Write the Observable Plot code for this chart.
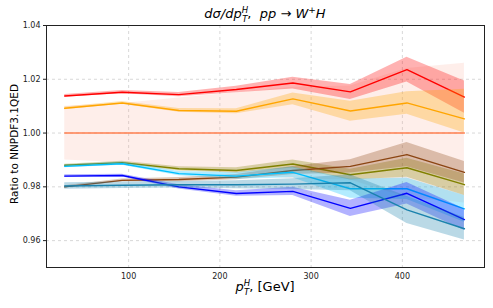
<!DOCTYPE html>
<html><head><meta charset="utf-8">
<script src="https://cdn.jsdelivr.net/npm/d3@7"></script>
<script src="https://cdn.jsdelivr.net/npm/@observablehq/plot@0.6"></script>
<style>body{margin:0;background:#fff;} svg{font-family:"DejaVu Sans",sans-serif;}</style>
</head><body><div id="chart"></div>
<script>
// bin centres of pT^H [GeV]
const pT = [30, 93, 155, 218, 280, 343, 405, 468];
const yTicks = [0.96, 0.98, 1.00, 1.02, 1.04];
const xTicks = [100, 200, 300, 400];

// reference NNPDF3.1QED
const refVal = [1, 1, 1, 1, 1, 1, 1, 1];
const refErr = [0.0100, 0.0110, 0.0130, 0.0150, 0.0170, 0.0175, 0.0240, 0.0260];
// red
const redVal = [1.0138, 1.0152, 1.0143, 1.0162, 1.0186, 1.0153, 1.0236, 1.0134];
const redErr = [0.0005, 0.0006, 0.0008, 0.0012, 0.0022, 0.0028, 0.0046, 0.0060];
// orange
const orangeVal = [1.0092, 1.0112, 1.0084, 1.0081, 1.0127, 1.0082, 1.0112, 1.0053];
const orangeUp = [0.0005, 0.0005, 0.0007, 0.0009, 0.0022, 0.0036, 0.0042, 0.0110];
const orangeDn = [0.0005, 0.0005, 0.0007, 0.0009, 0.0022, 0.0038, 0.0042, 0.0053];
// olive
const oliveVal = [0.9880, 0.9890, 0.9867, 0.9861, 0.9885, 0.9845, 0.9871, 0.9808];
const oliveErr = [0.0004, 0.0005, 0.0008, 0.0010, 0.0015, 0.0020, 0.0035, 0.0040];
// brown
const brownVal = [0.9800, 0.9824, 0.9827, 0.9836, 0.9861, 0.9876, 0.9920, 0.9854];
const brownErr = [0.0004, 0.0005, 0.0008, 0.0010, 0.0015, 0.0025, 0.0045, 0.0040];
// deep sky blue
const cyanVal = [0.9876, 0.9886, 0.9849, 0.9840, 0.9854, 0.9793, 0.9793, 0.9718];
const cyanErr = [0.0005, 0.0006, 0.0008, 0.0012, 0.0020, 0.0035, 0.0040, 0.0050];
// blue
const blueVal = [0.9840, 0.9842, 0.9800, 0.9775, 0.9783, 0.9720, 0.9776, 0.9678];
const blueErr = [0.0005, 0.0005, 0.0008, 0.0010, 0.0015, 0.0030, 0.0040, 0.0040];
// teal
const tealVal = [0.9803, 0.9806, 0.9808, 0.9808, 0.9810, 0.9815, 0.9714, 0.9644];
const tealErr = [0.0012, 0.0012, 0.0012, 0.0015, 0.0020, 0.0030, 0.0050, 0.0042];

const series = [
  {name: "ref", color: "#ff8050", band: "#f8a08a", op: 0.18, val: refVal, up: refErr, dn: refErr},
  {name: "red", color: "#ff0000", band: "#ff0000", op: 0.3, val: redVal, up: redErr, dn: redErr},
  {name: "orange", color: "#ffa500", band: "#ffa500", op: 0.3, val: orangeVal, up: orangeUp, dn: orangeDn},
  {name: "olive", color: "#808000", band: "#808000", op: 0.3, val: oliveVal, up: oliveErr, dn: oliveErr},
  {name: "brown", color: "#8b4513", band: "#8b4513", op: 0.3, val: brownVal, up: brownErr, dn: brownErr},
  {name: "cyan", color: "#00bfff", band: "#00bfff", op: 0.3, val: cyanVal, up: cyanErr, dn: cyanErr},
  {name: "blue", color: "#0000ff", band: "#0000ff", op: 0.3, val: blueVal, up: blueErr, dn: blueErr},
  {name: "teal", color: "#1a82ad", band: "#1a82ad", op: 0.3, val: tealVal, up: tealErr, dn: tealErr}
];

const seriesMarks = series.flatMap(s => {
  const rows = pT.map((x, i) => ({x, y: s.val[i], lo: s.val[i] - s.dn[i], hi: s.val[i] + s.up[i]}));
  return [
    Plot.areaY(rows, {x: "x", y1: "lo", y2: "hi", fill: s.band, fillOpacity: s.op}),
    Plot.lineY(rows, {x: "x", y: "y", stroke: s.color, strokeWidth: 1.4})
  ];
});

const chart = Plot.plot({
  width: 493, height: 308,
  marginLeft: 46, marginRight: 9, marginTop: 25, marginBottom: 41,
  style: {fontFamily: "DejaVu Sans", fontSize: "8px", background: "white", color: "#222"},
  x: {domain: [10, 490]},
  y: {domain: [0.95, 1.04]},
  marks: [
    Plot.gridX(xTicks, {stroke: "#c8c8c8", strokeOpacity: 0.7, strokeDasharray: "3,3"}),
    Plot.gridY(yTicks, {stroke: "#c8c8c8", strokeOpacity: 0.7, strokeDasharray: "3,3"}),
    ...seriesMarks,
    Plot.axisX(xTicks, {tickSize: 0, tickPadding: 6, label: null, fontSize: 8}),
    Plot.axisY(yTicks, {tickSize: 3, tickPadding: 3, label: null, fontSize: 8, tickFormat: d3.format(".2f")}),
    Plot.frame({stroke: "#222", strokeWidth: 1})
  ]
});

const svg = d3.select(chart);
// title
const t = svg.append("text").attr("x", 265).attr("y", 18).attr("text-anchor", "middle")
  .attr("font-size", 13).attr("fill", "#000");
t.append("tspan").attr("font-style", "italic").text("dσ/dp");
t.append("tspan").attr("font-style", "italic").attr("font-size", 8.5).attr("dy", -5).text("H");
t.append("tspan").attr("font-style", "italic").attr("font-size", 8.5).attr("dx", -6).attr("dy", 8.5).text("T");
t.append("tspan").attr("dy", -3.5).text(",  ");
t.append("tspan").attr("font-style", "italic").text("pp");
t.append("tspan").text(" → ");
t.append("tspan").attr("font-style", "italic").text("W");
t.append("tspan").attr("font-size", 9).attr("dy", -5).text("+");
t.append("tspan").attr("font-style", "italic").attr("dy", 5).text("H");
// x label
const xl = svg.append("text").attr("x", 265).attr("y", 291).attr("text-anchor", "middle")
  .attr("font-size", 13).attr("fill", "#000");
xl.append("tspan").attr("font-style", "italic").text("p");
xl.append("tspan").attr("font-style", "italic").attr("font-size", 8.5).attr("dy", -5).text("H");
xl.append("tspan").attr("font-style", "italic").attr("font-size", 8.5).attr("dx", -6).attr("dy", 8.5).text("T");
xl.append("tspan").attr("dy", -3.5).text(", [GeV]");
// y label
svg.append("text").attr("transform", "translate(17.5,144) rotate(-90)").attr("text-anchor", "middle")
  .attr("font-size", 10.5).attr("fill", "#000").text("Ratio to NNPDF3.1QED");

document.getElementById("chart").appendChild(chart);
</script>
</body></html>
